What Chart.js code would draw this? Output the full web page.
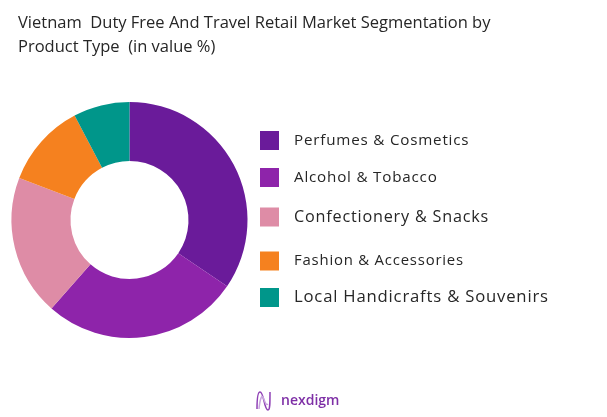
<!DOCTYPE html>
<html>
<head>
<meta charset="utf-8">
<script src="https://cdn.jsdelivr.net/npm/chart.js@4.4.1/dist/chart.umd.min.js"></script>
<style>
  html, body { margin: 0; padding: 0; background: #ffffff; }
  #wrap { position: relative; width: 607px; height: 417px; }
</style>
</head>
<body>
<div id="wrap"><canvas id="c"></canvas></div>
<script>
const categories = [
  "Perfumes & Cosmetics",
  "Alcohol & Tobacco",
  "Confectionery & Snacks",
  "Fashion & Accessories",
  "Local Handicrafts & Souvenirs"
];
const shareValues = [34.5, 27.0, 19.3, 11.5, 7.7];
const sliceColors = ["#6A1B9A", "#8E24AA", "#DE8CA6", "#F5811F", "#00968A"];
const titleLines = [
  "Vietnam  Duty Free And Travel Retail Market Segmentation by",
  "Product Type  (in value %)"
];
const brandName = "nexdigm";

const FONT = "'Open Sans', sans-serif";
const legendRowY = [140.5, 177.5, 217, 261, 297.5];
const legendFontSize = [15.2, 15.2, 16.2, 14.9, 16.7];

const decorPlugin = {
  id: 'decor',
  afterDraw(chart) {
    const ctx = chart.ctx;
    ctx.save();
    // Title
    ctx.fillStyle = '#262626';
    ctx.font = `16.5px ${FONT}`;
    ctx.textBaseline = 'middle';
    ctx.textAlign = 'left';
    titleLines.forEach((t, i) => ctx.fillText(t, 18, 23 + i * 24));
    // Legend
    const ds = chart.data.datasets[0];
    if ('letterSpacing' in ctx) ctx.letterSpacing = '0.8px';
    chart.data.labels.forEach((lab, i) => {
      const y = legendRowY[i];
      ctx.fillStyle = ds.backgroundColor[i];
      ctx.fillRect(260, y - 9.5, 19, 19);
      ctx.fillStyle = '#262626';
      ctx.font = `${legendFontSize[i]}px ${FONT}`;
      ctx.fillText(lab, 294, y);
    });
    if ('letterSpacing' in ctx) ctx.letterSpacing = '0px';
    // Brand logo
    ctx.strokeStyle = '#8E3FB5';
    ctx.lineWidth = 1.5;
    ctx.beginPath();
    ctx.moveTo(257, 409);
    ctx.bezierCurveTo(257, 396, 258, 392, 260, 392);
    ctx.bezierCurveTo(264, 392, 264, 410, 268, 410);
    ctx.bezierCurveTo(270, 410, 270, 404, 270, 392);
    ctx.stroke();
    ctx.strokeStyle = '#C9A6DE';
    ctx.beginPath();
    ctx.moveTo(259, 409);
    ctx.bezierCurveTo(260, 398, 262, 395, 263, 397);
    ctx.bezierCurveTo(265, 402, 266, 406, 268, 404);
    ctx.stroke();
    ctx.fillStyle = '#7E2FA6';
    ctx.font = `600 14px ${FONT}`;
    ctx.fillText(brandName, 281, 401.5);
    ctx.restore();
  }
};

new Chart(document.getElementById('c'), {
  type: 'doughnut',
  data: {
    labels: categories,
    datasets: [{
      data: shareValues,
      backgroundColor: sliceColors,
      borderWidth: 0,
      hoverOffset: 0
    }]
  },
  options: {
    responsive: true,
    maintainAspectRatio: false,
    animation: false,
    cutout: '50%',
    layout: { padding: { left: 11.5, right: 359.5, top: 102, bottom: 79 } },
    plugins: {
      legend: { display: false },
      title: { display: false },
      tooltip: { enabled: false }
    }
  },
  plugins: [decorPlugin]
});
</script>
</body>
</html>
